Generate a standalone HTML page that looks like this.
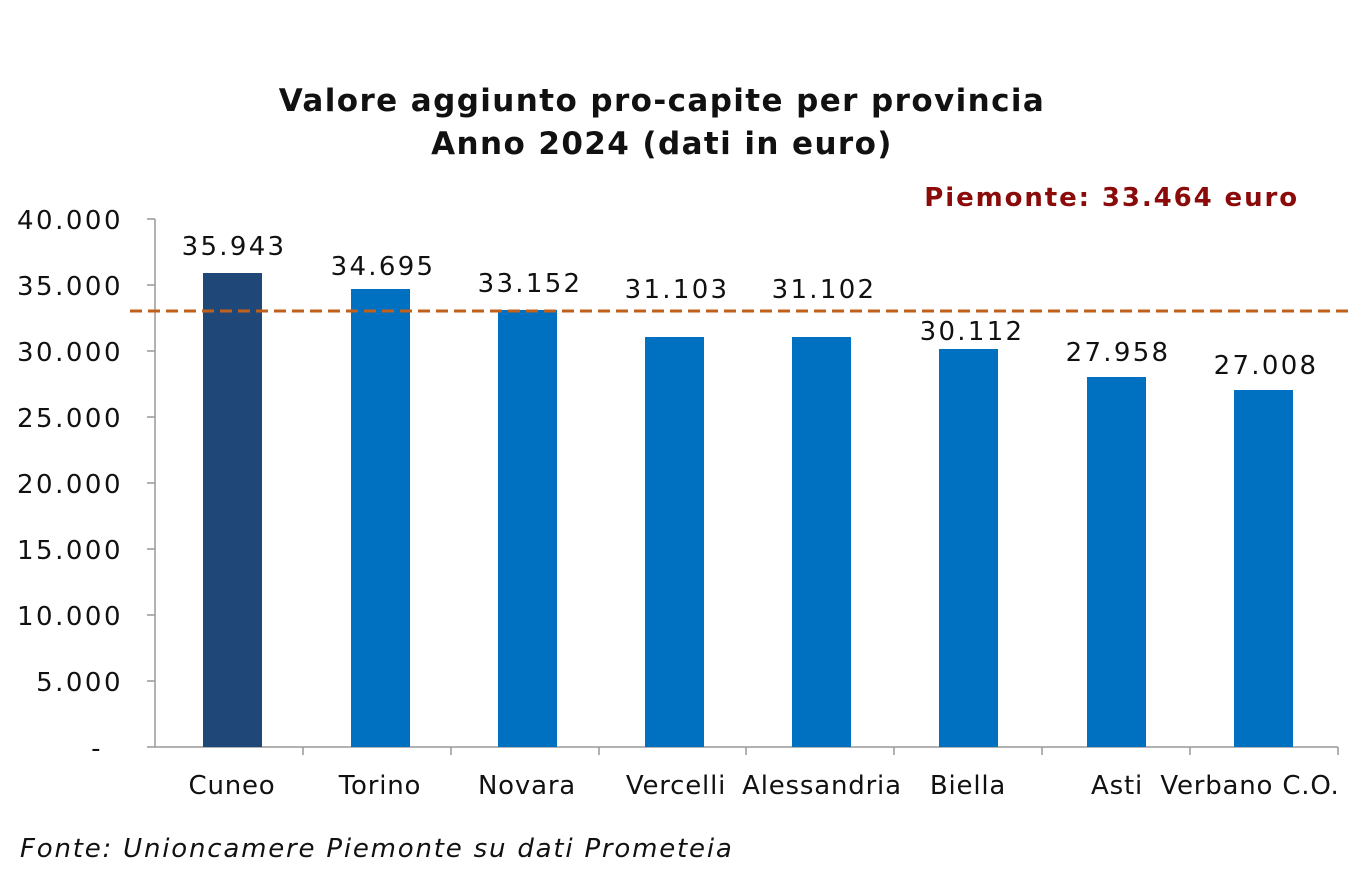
<!DOCTYPE html>
<html><head><meta charset="utf-8"><style>
html,body{margin:0;padding:0;background:#fff;}
svg{display:block;}
text{font-family:"DejaVu Sans","Liberation Sans",sans-serif;fill:#111;}
</style></head><body>
<svg width="1369" height="876" viewBox="0 0 1369 876" xmlns="http://www.w3.org/2000/svg">
<text x="662" y="111" text-anchor="middle" font-size="31" font-weight="bold" letter-spacing="1.4" fill="#000">Valore aggiunto pro-capite per provincia</text>
<text x="662" y="154" text-anchor="middle" font-size="31" font-weight="bold" letter-spacing="1.4" fill="#000">Anno 2024 (dati in euro)</text>
<text x="1299" y="206" text-anchor="end" font-size="26" font-weight="bold" letter-spacing="1.9" style="fill:#8b0a0a">Piemonte: 33.464 euro</text>
<g font-size="26" text-anchor="end" letter-spacing="2.5">
<text x="123" y="229">40.000</text>
<text x="123" y="295">35.000</text>
<text x="123" y="361">30.000</text>
<text x="123" y="427">25.000</text>
<text x="123" y="493">20.000</text>
<text x="123" y="559">15.000</text>
<text x="123" y="625">10.000</text>
<text x="123" y="691">5.000</text>
<text x="103" y="757">-</text>
</g>
<g stroke="#999" stroke-width="1.5">
<line x1="155" y1="219" x2="155" y2="747"/>
<line x1="155" y1="747" x2="1338" y2="747"/>
<line x1="147" y1="219" x2="155" y2="219"/><line x1="147" y1="285" x2="155" y2="285"/>
<line x1="147" y1="351" x2="155" y2="351"/><line x1="147" y1="417" x2="155" y2="417"/>
<line x1="147" y1="483" x2="155" y2="483"/><line x1="147" y1="549" x2="155" y2="549"/>
<line x1="147" y1="615" x2="155" y2="615"/><line x1="147" y1="681" x2="155" y2="681"/>
<line x1="147" y1="747" x2="155" y2="747"/>
<line x1="303" y1="747" x2="303" y2="755"/><line x1="451" y1="747" x2="451" y2="755"/>
<line x1="599" y1="747" x2="599" y2="755"/><line x1="746" y1="747" x2="746" y2="755"/>
<line x1="894" y1="747" x2="894" y2="755"/><line x1="1042" y1="747" x2="1042" y2="755"/>
<line x1="1190" y1="747" x2="1190" y2="755"/><line x1="1338" y1="747" x2="1338" y2="755"/>
</g>
<rect x="203" y="273" width="59" height="474" fill="#1f4778"/>
<rect x="351" y="289" width="59" height="458" fill="#0070c0"/>
<rect x="498" y="310" width="59" height="437" fill="#0070c0"/>
<rect x="645" y="337" width="59" height="410" fill="#0070c0"/>
<rect x="792" y="337" width="59" height="410" fill="#0070c0"/>
<rect x="939" y="349" width="59" height="398" fill="#0070c0"/>
<rect x="1087" y="377" width="59" height="370" fill="#0070c0"/>
<rect x="1234" y="390" width="59" height="357" fill="#0070c0"/>
<line x1="130" y1="311" x2="1350" y2="311" stroke="#c0601a" stroke-width="3" stroke-dasharray="12,6"/>
<g font-size="26" text-anchor="middle" letter-spacing="2.3">
<text x="234" y="255">35.943</text>
<text x="383" y="275">34.695</text>
<text x="530" y="292">33.152</text>
<text x="677" y="298">31.103</text>
<text x="824" y="298">31.102</text>
<text x="972" y="340">30.112</text>
<text x="1118" y="361">27.958</text>
<text x="1266" y="374">27.008</text>
</g>
<g font-size="26" text-anchor="middle" letter-spacing="0.8">
<text x="232" y="794">Cuneo</text>
<text x="380" y="794">Torino</text>
<text x="527" y="794">Novara</text>
<text x="676" y="794">Vercelli</text>
<text x="822" y="794">Alessandria</text>
<text x="968" y="794">Biella</text>
<text x="1117" y="794">Asti</text>
<text x="1250" y="794">Verbano C.O.</text>
</g>
<text x="20" y="857" font-size="26" font-style="italic" letter-spacing="1.8">Fonte: Unioncamere Piemonte su dati Prometeia</text>
</svg>
</body></html>
